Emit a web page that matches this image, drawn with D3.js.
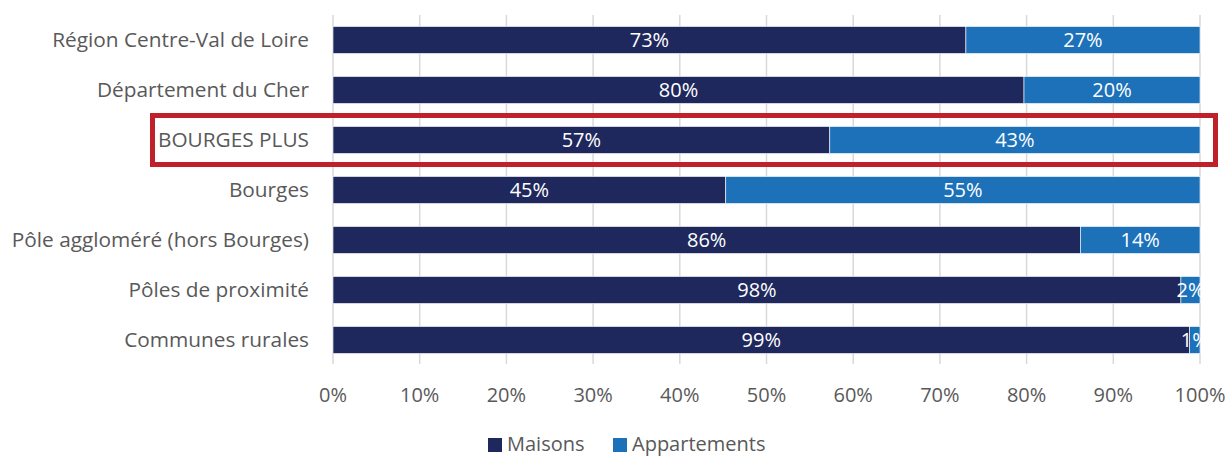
<!DOCTYPE html>
<html>
<head>
<meta charset="utf-8">
<script src="https://cdn.jsdelivr.net/npm/d3@7"></script>
<style>
  body { margin: 0; background: #fff; }
  svg { display: block; font-family: "Open Sans", Lato, sans-serif; }
</style>
</head>
<body>
<div id="container"></div>
<script>
const categories = [
    'Région Centre-Val de Loire',
    'Département du Cher',
    'BOURGES PLUS',
    'Bourges',
    'Pôle aggloméré (hors Bourges)',
    'Pôles de proximité',
    'Communes rurales'
];
const maisons = [73.0, 79.7, 57.3, 45.3, 86.2, 97.8, 98.8];
const appartements = [27.0, 20.3, 42.7, 54.7, 13.8, 2.2, 1.2];
const seriesNames = ['Maisons', 'Appartements'];
const tickValues = [0, 10, 20, 30, 40, 50, 60, 70, 80, 90, 100];
const highlighted = 'BOURGES PLUS';

const width = 1227;
const height = 457;
const colors = ['#1f285c', '#1c71b9'];

const rows = categories.map((c, i) => ({ name: c, Maisons: maisons[i], Appartements: appartements[i] }));
const stacked = d3.stack().keys(seriesNames)(rows);

const x = d3.scaleLinear().domain([0, 100]).range([333, 1200]);
const y = d3.scaleBand().domain(categories).range([15, 365]).paddingInner(0.46).paddingOuter(0.23);

const svg = d3.select('#container')
    .append('svg')
    .attr('width', width)
    .attr('height', height);

// grid
svg.append('g')
    .selectAll('line')
    .data(tickValues)
    .join('line')
    .attr('x1', d => x(d))
    .attr('x2', d => x(d))
    .attr('y1', 15)
    .attr('y2', 364)
    .attr('stroke', '#d9d9d9')
    .attr('stroke-width', 1.5);

// bars
const layer = svg.append('g')
    .selectAll('g')
    .data(stacked)
    .join('g')
    .attr('fill', (d, i) => colors[i]);

layer.selectAll('rect')
    .data(d => d)
    .join('rect')
    .attr('x', d => x(d[0]))
    .attr('width', d => x(d[1]) - x(d[0]))
    .attr('y', d => y(d.data.name))
    .attr('height', y.bandwidth())
    .attr('stroke', '#fff')
    .attr('stroke-width', 0.6);

layer.selectAll('text')
    .data(d => d)
    .join('text')
    .attr('x', d => (x(d[0]) + x(d[1])) / 2)
    .attr('y', d => y(d.data.name) + y.bandwidth() / 2)
    .attr('dy', '0.36em')
    .attr('text-anchor', 'middle')
    .attr('fill', '#fff')
    .style('font-size', '20px')
    .text(d => Math.round(d[1] - d[0]) + '%');

// category labels
svg.append('g')
    .selectAll('text')
    .data(categories)
    .join('text')
    .attr('x', 309)
    .attr('y', d => y(d) + y.bandwidth() / 2)
    .attr('dy', '0.36em')
    .attr('text-anchor', 'end')
    .attr('fill', '#595959')
    .style('font-size', '20.8px')
    .text(d => d);

// x axis labels
svg.append('g')
    .selectAll('text')
    .data(tickValues)
    .join('text')
    .attr('x', d => x(d))
    .attr('y', 395)
    .attr('dy', '0.36em')
    .attr('text-anchor', 'middle')
    .attr('fill', '#595959')
    .style('font-size', '20px')
    .text(d => d + '%');

// highlight box
const hy = y(highlighted);
svg.append('rect')
    .attr('x', 152.5)
    .attr('y', hy - 11)
    .attr('width', 1063)
    .attr('height', y.bandwidth() + 22)
    .attr('fill', 'none')
    .attr('stroke', '#c0202a')
    .attr('stroke-width', 5);

// legend (sits at the bottom edge)
const legendX = [488, 613];
const legend = svg.append('g')
    .selectAll('g')
    .data(seriesNames)
    .join('g')
    .attr('transform', (d, i) => `translate(${legendX[i]},438)`);

legend.append('rect')
    .attr('width', 14)
    .attr('height', 14)
    .attr('fill', (d, i) => colors[i]);

legend.append('text')
    .attr('x', 19)
    .attr('y', 6)
    .attr('dy', '0.36em')
    .attr('fill', '#595959')
    .style('font-size', '20px')
    .text(d => d);
</script>
</body>
</html>
